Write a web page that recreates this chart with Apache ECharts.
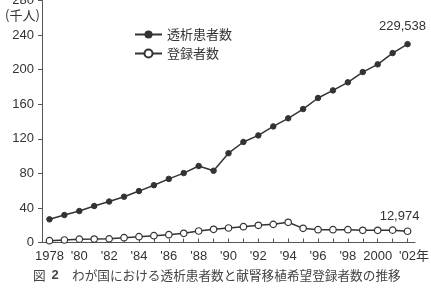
<!DOCTYPE html>
<html><head><meta charset="utf-8">
<script src="https://cdn.jsdelivr.net/npm/echarts@6/dist/echarts.min.js"></script>
<style>html,body{margin:0;padding:0;background:#fff}#c{width:431px;height:291px}</style>
</head><body><div id="c"></div>
<script>
var years = ['1978','1979','1980','1981','1982','1983','1984','1985','1986','1987','1988','1989','1990','1991','1992','1993','1994','1995','1996','1997','1998','1999','2000','2001','2002'];
var xTickLabels = {'1978':'1978','1980':"'80",'1982':"'82",'1984':"'84",'1986':"'86",'1988':"'88",'1990':"'90",'1992':"'92",'1994':"'94",'1996':"'96",'1998':"'98",'2000':'2000','2002':"'02"};
var dialysis = [26.8,31.8,36.4,42.2,47.4,53.0,59.5,66.3,73.6,80.3,88.5,83.0,103.3,116.3,123.9,134.3,143.7,154.4,167.2,176.0,185.3,197.2,206.1,219.2,229.5];
var registered = [2.1,2.9,3.9,4.0,4.2,5.6,6.7,7.9,9.0,10.6,13.3,15.3,16.8,18.3,19.9,21.0,23.4,16.4,14.8,14.8,14.8,14.1,14.1,14.3,13.0];
var yTicks = [0,40,80,120,160,200,240,280];
var lastLabels = ['229,538','12,974'];
var names = ['透析患者数','登録者数'];

var FONT = '"Liberation Sans", "Noto Sans CJK JP", sans-serif';
var CJK = '"Noto Sans CJK JP", sans-serif';
var ink = '#333';

function mkData(arr, lbl, ox, oy) {
  return arr.map(function (v, i) {
    if (i === arr.length - 1) {
      return {value: v, label: {show: true, position: 'top', offset: [ox, oy], formatter: lbl,
        color: ink, fontSize: 13, fontFamily: FONT}};
    }
    return v;
  });
}

var chart = echarts.init(document.getElementById('c'), null, {renderer: 'canvas'});
chart.setOption({
  animation: false,
  backgroundColor: '#fff',
  grid: {left: 42, right: 16, top: 0.5, bottom: 48.5, containLabel: false, outerBoundsMode: 'none'},
  legend: {
    orient: 'vertical', left: 134, top: 28, padding: 0, itemWidth: 27, itemHeight: 10, itemGap: 6, itemTextGap: 7,
    textStyle: {color: ink, fontSize: 13, fontFamily: CJK, lineHeight: 12},
    data: names
  },
  xAxis: {
    type: 'category', data: years, boundaryGap: true,
    axisLine: {lineStyle: {color: '#555', width: 1}},
    axisTick: {show: true, inside: true, length: 4, alignWithLabel: true, interval: 0, lineStyle: {color: '#555'}},
    axisLabel: {interval: 0, margin: 7, color: ink, fontSize: 13, fontFamily: FONT,
      formatter: function (v) { return xTickLabels[v] || ''; }},
    splitLine: {show: false}
  },
  yAxis: {
    type: 'value', min: yTicks[0], max: yTicks[yTicks.length - 1], interval: 40,
    axisLine: {show: true, lineStyle: {color: '#555', width: 1}},
    axisTick: {show: true, length: 4, lineStyle: {color: '#555'}},
    axisLabel: {margin: 8, color: ink, fontSize: 13, fontFamily: FONT},
    splitLine: {show: false}
  },
  series: [
    {name: names[0], type: 'line', data: mkData(dialysis, lastLabels[0], -5, -3),
      symbol: 'circle', symbolSize: 5.5, showSymbol: true,
      lineStyle: {color: '#333', width: 1.5}, itemStyle: {color: '#333', borderColor: '#333'}},
    {name: names[1], type: 'line', data: mkData(registered, lastLabels[1], -8, 1),
      symbol: 'circle', symbolSize: 6.5, showSymbol: true,
      lineStyle: {color: '#333', width: 1.5}, itemStyle: {color: '#fff', borderColor: '#333', borderWidth: 1.2}}
  ],
  graphic: [
    {type: 'text', left: 5, top: 9, style: {text: '(千人)', fill: ink, fontSize: 13, fontFamily: CJK}},
    {type: 'text', left: 416, top: 249, style: {text: '年', fill: ink, fontSize: 13, fontFamily: CJK}},
    {type: 'text', left: 33, top: 268.5, style: {text: '図', fill: '#444', fontSize: 12.7, fontFamily: CJK}},
    {type: 'text', left: 51.5, top: 269, style: {text: '2', fill: '#444', fontSize: 13, fontWeight: 'bold', fontFamily: FONT}},
    {type: 'text', left: 72, top: 268.5, style: {text: 'わが国における透析患者数と献腎移植希望登録者数の推移', fill: '#444', fontSize: 12.65, fontFamily: CJK}}
  ]
});
</script></body></html>
